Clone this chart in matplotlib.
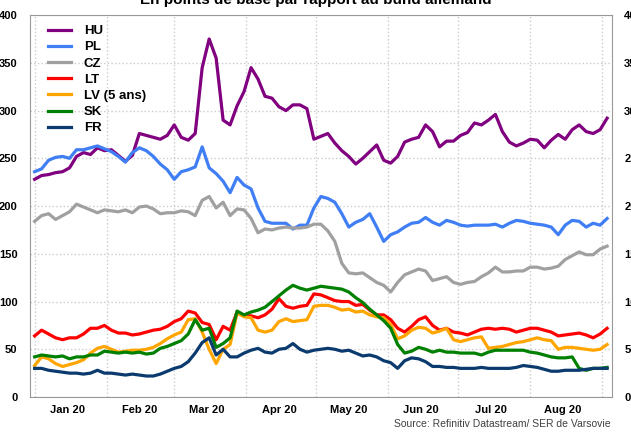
import pandas as pd
import matplotlib
matplotlib.use('Agg')
import matplotlib.pyplot as plt
import matplotlib.dates as mdates

plt.rcParams['font.family'] = ['Liberation Sans', 'DejaVu Sans']

# dates: every 3 days from 1 Jan 2020
dates = pd.date_range('2020-01-01', periods=83, freq='3D')

hu = [228, 232, 233, 235, 236, 240, 252, 256, 254, 261, 258, 259, 253, 247, 253, 276, 274,
      272, 270, 274, 285, 272, 269, 276, 345, 375, 355, 290, 285, 305, 320, 345, 333, 315,
      313, 304, 300, 306, 306, 302, 270, 273, 276, 266, 258, 252, 244, 250, 257, 264, 248,
      245, 252, 267, 270, 272, 285, 278, 262, 268, 268, 274, 277, 287, 285, 290, 296, 278,
      267, 263, 266, 270, 269, 261, 269, 275, 270, 280, 285, 278, 276, 280, 292]
pl = [236, 239, 248, 251, 252, 250, 259, 259, 261, 263, 260, 257, 252, 246, 256, 261, 258,
      252, 244, 238, 228, 236, 238, 241, 262, 240, 234, 226, 214, 230, 222, 218, 198, 184,
      182, 182, 182, 176, 180, 180, 198, 210, 208, 204, 192, 178, 183, 186, 192, 178, 163,
      170, 173, 178, 182, 183, 188, 183, 180, 185, 183, 180, 179, 180, 180, 180, 181, 178,
      182, 185, 184, 182, 181, 180, 178, 170, 180, 185, 184, 178, 182, 180, 187]
cz = [184, 190, 192, 186, 190, 194, 202, 199, 196, 193, 196, 195, 194, 196, 193, 199, 200,
      197, 192, 193, 193, 195, 194, 190, 206, 210, 198, 204, 190, 197, 196, 187, 172, 176,
      175, 177, 178, 177, 177, 178, 181, 181, 174, 163, 140, 130, 129, 130, 125, 120, 117,
      110, 120, 128, 131, 134, 132, 122, 124, 126, 120, 118, 120, 121, 126, 130, 136, 131,
      131, 132, 132, 136, 136, 134, 135, 137, 144, 148, 152, 149, 149, 155, 158]
lt = [64, 70, 66, 62, 60, 62, 62, 66, 72, 72, 75, 70, 67, 67, 65, 66, 68, 70, 71, 74, 79,
      82, 90, 88, 78, 76, 60, 74, 70, 89, 85, 85, 83, 86, 92, 103, 95, 93, 95, 96, 108, 107,
      104, 101, 100, 100, 96, 97, 91, 86, 86, 81, 72, 68, 74, 81, 84, 75, 70, 72, 68, 67, 65,
      68, 71, 72, 71, 72, 71, 68, 70, 72, 72, 70, 68, 64, 65, 66, 67, 65, 62, 66, 72]
lv = [33, 42, 40, 35, 32, 34, 36, 39, 46, 51, 53, 50, 47, 48, 49, 49, 50, 52, 56, 61, 65,
      68, 81, 82, 68, 50, 35, 50, 55, 88, 84, 83, 70, 68, 70, 79, 82, 79, 80, 81, 95, 96, 96,
      94, 91, 92, 89, 90, 86, 84, 83, 76, 61, 64, 70, 73, 72, 67, 69, 72, 60, 58, 60, 62, 63,
      51, 52, 53, 55, 57, 58, 60, 62, 60, 59, 50, 52, 52, 51, 50, 49, 50, 55]
sk = [42, 44, 43, 42, 43, 40, 42, 42, 44, 44, 48, 47, 46, 47, 46, 47, 45, 46, 51, 53, 56,
      59, 66, 81, 70, 72, 52, 56, 62, 90, 86, 89, 91, 94, 100, 106, 112, 117, 114, 112, 114,
      116, 115, 114, 113, 110, 104, 99, 92, 86, 80, 72, 55, 46, 48, 52, 50, 47, 49, 47, 47,
      46, 46, 46, 44, 47, 49, 49, 49, 49, 49, 47, 46, 44, 42, 41, 41, 42, 30, 28, 30, 30, 31]
fr = [30, 30, 28, 27, 26, 25, 25, 24, 25, 28, 25, 25, 24, 23, 24, 23, 22, 22, 24, 27, 30,
      32, 37, 46, 57, 62, 44, 50, 42, 42, 46, 49, 51, 47, 46, 50, 51, 56, 50, 47, 49, 50, 51,
      50, 48, 49, 46, 43, 44, 42, 38, 36, 30, 38, 41, 40, 37, 32, 32, 31, 31, 30, 30, 30, 31,
      30, 30, 30, 30, 31, 33, 32, 31, 29, 27, 27, 28, 28, 28, 29, 30, 30, 30]

labels = ['HU', 'PL', 'CZ', 'LT', 'LV (5 ans)', 'SK', 'FR']
series = [hu, pl, cz, lt, lv, sk, fr]
colors = ['#800080', '#3f7ef5', '#a0a0a0', '#ff0000', '#ffa500', '#008000', '#0b3b6e']

fig = plt.figure(figsize=(6.31, 4.32), dpi=100)
ax = fig.add_axes([0.0475, 0.081, 0.922, 0.884])

for vals, lab, col in zip(series, labels, colors):
    ax.plot(dates, vals, color=col, lw=2.3, label=lab, solid_joinstyle='round')

ax.set_ylim(0, 400)
ax.set_yticks(range(0, 401, 50))
ax.set_xlim(pd.Timestamp('2019-12-30'), pd.Timestamp('2020-09-05'))

# month boundaries for grid, labels in mid-month
ax.xaxis.set_major_locator(mdates.MonthLocator())
ax.xaxis.set_major_formatter(plt.NullFormatter())
ax.xaxis.set_minor_locator(mdates.MonthLocator(bymonthday=15))
ax.xaxis.set_minor_formatter(mdates.DateFormatter('%b %y'))
ax.tick_params(axis='x', which='both', length=0, labelsize=8, pad=6)
ax.tick_params(axis='y', length=0, labelsize=8, pad=9, labelright=True, right=False)
for t in ax.get_xticklabels(minor=True) + ax.get_yticklabels():
    t.set_fontweight('bold')

ax.grid(True, which='major', color='#cccccc', linestyle=':', lw=1)
for s in ax.spines.values():
    s.set_color('#999999')

leg = ax.legend(loc='upper left', bbox_to_anchor=(0.014, 1.0), frameon=False,
                handlelength=1.75, handletextpad=0.95, labelspacing=0.3,
                borderaxespad=0.35, prop={'weight': 'bold', 'size': 9.5})

fig.text(0.5, 1.0, 'En points de base par rapport au bund allemand', ha='center',
         va='center', fontsize=11, fontweight='bold')
fig.text(0.967, 0.006, 'Source: Refinitiv Datastream/ SER de Varsovie', ha='right',
         va='bottom', fontsize=7.5, color='#404040')

plt.savefig('out.png', dpi=100)
